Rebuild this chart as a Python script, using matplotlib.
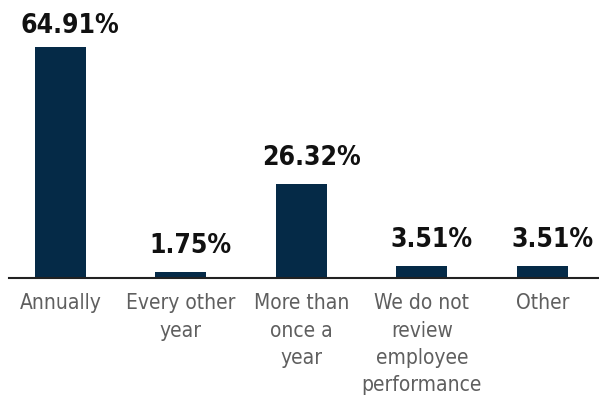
import matplotlib
matplotlib.use("Agg")
import matplotlib.pyplot as plt
from matplotlib.transforms import offset_copy

categories = ["Annually", "Every other\nyear", "More than\nonce a\nyear",
              "We do not\nreview\nemployee\nperformance", "Other"]
values = [64.91, 1.75, 26.32, 3.51, 3.51]
value_labels = ["64.91%", "1.75%", "26.32%", "3.51%", "3.51%"]

BAR_COLOR = "#052a47"
LABEL_GRAY = "#5f5f5f"

fig = plt.figure(figsize=(5.99, 3.98), dpi=100)
ax = fig.add_axes([9 / 599, 120 / 398, 590 / 599, 278 / 398])

positions = list(range(len(categories)))
ax.bar(positions, values, width=0.423, color=BAR_COLOR, zorder=2)

ax.set_xlim(-0.4257, 4.4705)
ax.set_ylim(0, 78.12)

# value labels sit a fixed gap above each bar, but never above the top margin
label_gap = 5.34
label_ceiling = 68.84
shifted = offset_copy(ax.transData, fig=fig, x=10, y=0, units="dots")
for x, v, lab in zip(positions, values, value_labels):
    ax.text(x, min(v + label_gap, label_ceiling), lab, transform=shifted,
            ha="center", va="baseline", fontsize=19, fontweight="bold",
            family="DejaVu Sans", fontstretch="condensed", color="#111111")

ax.set_xticks(positions)
ax.set_xticklabels(categories, fontsize=15, color=LABEL_GRAY,
                   family="DejaVu Sans", fontstretch="condensed",
                   linespacing=1.46)
ax.tick_params(axis="x", length=0, pad=11)
ax.set_yticks([])

for side in ("top", "left", "right"):
    ax.spines[side].set_visible(False)
ax.spines["bottom"].set_color("#222222")
ax.spines["bottom"].set_linewidth(1.5)

fig.savefig("out.png", dpi=100)
